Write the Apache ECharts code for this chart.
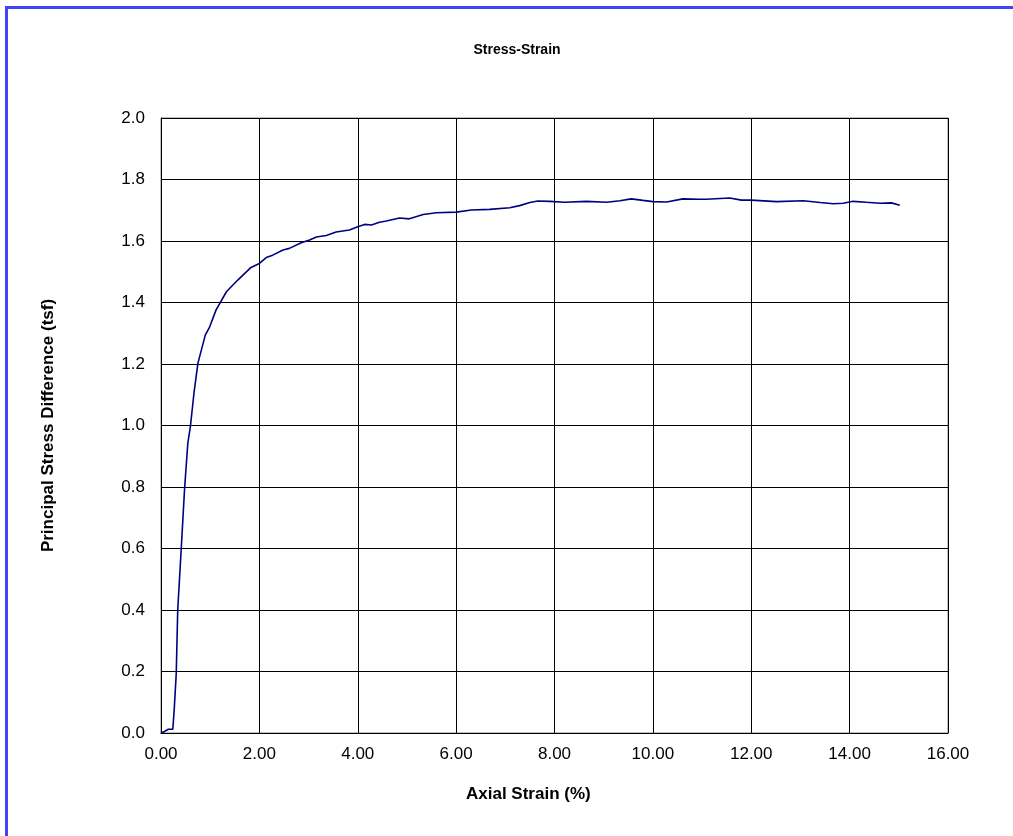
<!DOCTYPE html>
<html>
<head>
<meta charset="utf-8">
<script src="https://cdn.jsdelivr.net/npm/echarts@6/dist/echarts.min.js"></script>
<style>
  html, body { margin: 0; padding: 0; background: #fff; overflow: hidden; }
  #frame { position: absolute; left: 5px; top: 6px; width: 1100px; height: 900px;
           border-left: 3px solid #4444f6; border-top: 3px solid #4444f6; }
  #chart { position: absolute; left: 0; top: 0; width: 1013px; height: 836px; }
</style>
</head>
<body>
<div id="frame"></div>
<div id="chart"></div>
<script>
// Axial strain (%) and principal stress difference (tsf) from the triaxial test
const strain = [0, 0.07, 0.15, 0.24, 0.27, 0.31, 0.34, 0.41, 0.48, 0.545, 0.60, 0.67, 0.75, 0.82, 0.90, 0.99,
  1.12, 1.33, 1.56, 1.83, 2.00, 2.14, 2.27, 2.48, 2.61, 2.85, 3.02, 3.16, 3.36, 3.56, 3.83, 4.00,
  4.14, 4.28, 4.44, 4.58, 4.85, 5.05, 5.33, 5.60, 6.00, 6.31, 6.68, 7.09, 7.29, 7.50, 7.66, 7.90,
  8.21, 8.65, 9.06, 9.33, 9.56, 9.80, 10.00, 10.28, 10.61, 10.95, 11.09, 11.56, 11.80, 12.00, 12.51,
  13.06, 13.40, 13.67, 13.87, 14.07, 14.34, 14.62, 14.85, 15.02];
const stress = [0, 0.005, 0.012, 0.012, 0.08, 0.194, 0.40, 0.595, 0.796, 0.942, 1.00, 1.105, 1.202, 1.245, 1.294, 1.321,
  1.376, 1.435, 1.473, 1.514, 1.527, 1.546, 1.554, 1.571, 1.576, 1.594, 1.603, 1.613, 1.618, 1.629, 1.636, 1.646,
  1.654, 1.652, 1.661, 1.665, 1.675, 1.672, 1.686, 1.692, 1.694, 1.701, 1.703, 1.708, 1.715, 1.725, 1.730, 1.729,
  1.726, 1.729, 1.726, 1.731, 1.737, 1.732, 1.728, 1.727, 1.737, 1.736, 1.736, 1.740, 1.733, 1.733, 1.728,
  1.731, 1.725, 1.721, 1.723, 1.729, 1.726, 1.723, 1.724, 1.716];

const titleText = 'Stress-Strain';
const xName = 'Axial Strain (%)';
const yName = 'Principal Stress Difference (tsf)';

const font = '"Liberation Sans", Arial, sans-serif';
const points = strain.map((s, i) => [s, stress[i]]);

const chart = echarts.init(document.getElementById('chart'), null, { renderer: 'canvas' });
chart.setOption({
  backgroundColor: 'transparent',
  animation: false,
  title: {
    text: titleText,
    left: 512, top: 38, textAlign: 'center',
    textStyle: { fontFamily: font, fontSize: 14, fontWeight: 'bold', color: '#000' }
  },
  grid: { left: 161, top: 118, right: 65, bottom: 103, show: true, borderColor: '#808080', borderWidth: 1 },
  xAxis: {
    type: 'value', min: 0, max: 16, interval: 2,
    axisLine: { show: true, onZero: false, lineStyle: { color: '#000', width: 1 } },
    axisTick: { show: false },
    splitLine: { show: true, lineStyle: { color: '#000', width: 1 } },
    axisLabel: { color: '#000', fontFamily: font, fontSize: 17, margin: 13, formatter: v => v.toFixed(2) }
  },
  yAxis: {
    type: 'value', min: 0, max: 2, interval: 0.2,
    name: yName, nameLocation: 'middle', nameGap: 104,
    nameTextStyle: { fontFamily: font, fontSize: 17, fontWeight: 'bold', color: '#000' },
    axisLine: { show: true, lineStyle: { color: '#000', width: 1 } },
    axisTick: { show: true, inside: true, length: 3, lineStyle: { color: '#000' } },
    splitLine: { show: true, lineStyle: { color: '#000', width: 1 } },
    axisLabel: { color: '#000', fontFamily: font, fontSize: 17, margin: 16, formatter: v => v.toFixed(1) }
  },
  graphic: [{
    type: 'text', left: 532 - 66, top: 786,
    style: { text: xName, font: 'bold 17px ' + font, fill: '#000' }
  }],
  series: [{
    type: 'line', data: points, showSymbol: false, smooth: false,
    lineStyle: { color: '#000080', width: 1.6 }
  }]
});
</script>
</body>
</html>
